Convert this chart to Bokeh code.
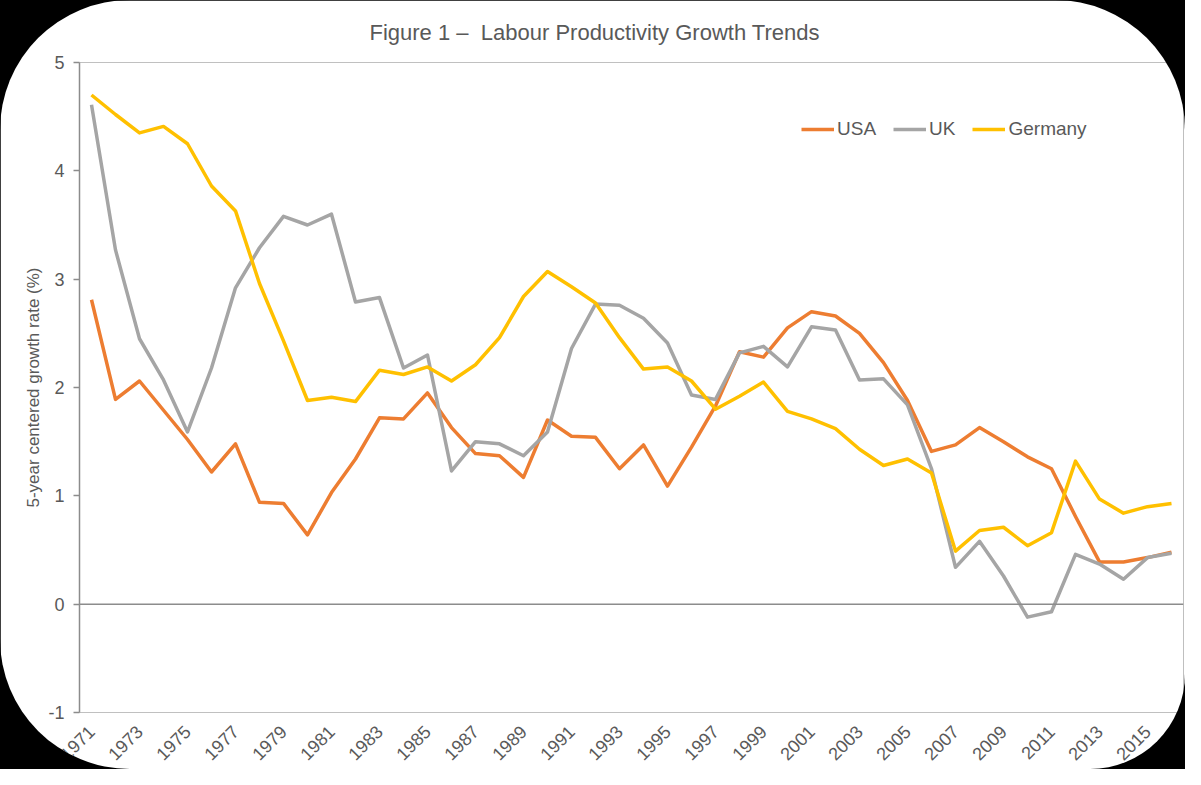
import math
from bokeh.plotting import figure
from bokeh.models import Span, FixedTicker, Legend, LegendItem, Range1d
from bokeh.layouts import column
from bokeh.embed import file_html
from bokeh.resources import INLINE

years = list(range(1971, 2017))
usa = [2.81, 1.89, 2.06, 1.79, 1.52, 1.22, 1.48, 0.94, 0.93, 0.64,
       1.03, 1.34, 1.72, 1.71, 1.95, 1.63, 1.39, 1.37, 1.17, 1.70,
       1.55, 1.54, 1.25, 1.47, 1.09, 1.45, 1.83, 2.33, 2.28, 2.55,
       2.70, 2.66, 2.50, 2.23, 1.88, 1.41, 1.47, 1.63, 1.50, 1.36,
       1.25, 0.81, 0.39, 0.39, 0.43, 0.48]
uk = [4.61, 3.27, 2.45, 2.07, 1.59, 2.18, 2.92, 3.29, 3.58, 3.50,
      3.60, 2.79, 2.83, 2.18, 2.30, 1.23, 1.50, 1.48, 1.37, 1.59,
      2.36, 2.77, 2.76, 2.64, 2.41, 1.93, 1.89, 2.32, 2.38, 2.19,
      2.56, 2.53, 2.07, 2.08, 1.84, 1.25, 0.34, 0.58, 0.26, -0.12,
      -0.07, 0.46, 0.37, 0.23, 0.43, 0.47]
germany = [4.70, 4.52, 4.35, 4.41, 4.25, 3.86, 3.63, 2.96, 2.43, 1.88,
           1.91, 1.87, 2.16, 2.12, 2.19, 2.06, 2.21, 2.46, 2.84, 3.07,
           2.93, 2.78, 2.46, 2.17, 2.19, 2.06, 1.80, 1.92, 2.05, 1.78,
           1.71, 1.62, 1.43, 1.28, 1.34, 1.21, 0.49, 0.68, 0.71, 0.54,
           0.66, 1.32, 0.97, 0.84, 0.90, 0.93]
tick_years = list(range(1971, 2016, 2))
y_ticks = [-1, 0, 1, 2, 3, 4, 5]
y_tick_labels = {-1: "-1", 0: "0", 1: "1", 2: "2", 3: "3", 4: "4", 5: "5"}
series_names = ["USA", "UK", "Germany"]
colors = ["#ED7D31", "#A5A5A5", "#FFC000"]

FONT = "Liberation Sans"
TXT = "#595959"
AX = "#8C8C8C"

p = figure(width=1185, height=769, output_backend="svg", toolbar_location=None,
           x_range=Range1d(1970.5, 2016.5), y_range=Range1d(-1, 5),
           min_border_left=79, min_border_right=2, min_border_top=60,
           min_border_bottom=46, border_fill_color="white",
           background_fill_color="white")
p.outline_line_color = None
p.grid.visible = False

p.title.text = "Figure 1 \u2013\u00a0 Labour Productivity Growth Trends"
p.title.align = "left"
p.title.text_font = FONT
p.title.text_font_size = "22px"
p.title.text_font_style = "normal"
p.title.text_color = TXT
p.title.offset = 290
p.title.standoff = 35

renderers = []
for name, vals, c in zip(series_names, [usa, uk, germany], colors):
    r = p.line(years, vals, line_color=c, line_width=3.5, line_join="round")
    renderers.append((name, r))

zero = Span(location=0, dimension="width", line_color=AX, line_width=1.5)
p.add_layout(zero)

# x axis
xa = p.xaxis[0]
xa.ticker = FixedTicker(ticks=tick_years)
xa.axis_line_color = None
xa.major_tick_line_color = None
xa.minor_tick_line_color = None
xa.major_label_orientation = math.pi / 4
xa.major_label_text_font = FONT
xa.major_label_text_font_size = "18px"
xa.major_label_text_color = TXT
xa.major_label_standoff = 10

# y axis
ya = p.yaxis[0]
ya.ticker = FixedTicker(ticks=y_ticks)
ya.major_label_overrides = y_tick_labels
ya.axis_line_color = AX
ya.axis_line_width = 1.5
ya.major_tick_line_color = AX
ya.major_tick_line_width = 1.5
ya.major_tick_out = 6
ya.major_tick_in = 0
ya.minor_tick_line_color = None
ya.major_label_text_font = FONT
ya.major_label_text_font_size = "18px"
ya.major_label_text_color = TXT
ya.major_label_standoff = 9
ya.axis_label = "5-year centered growth rate (%)"
ya.axis_label_text_font = FONT
ya.axis_label_text_font_size = "17px"
ya.axis_label_text_font_style = "normal"
ya.axis_label_text_color = TXT
ya.axis_label_standoff = 2

legend = Legend(items=[LegendItem(label=n, renderers=[r]) for n, r in renderers],
                orientation="horizontal", location=(722, 572),
                glyph_width=33, glyph_height=20, label_standoff=3, spacing=17,
                label_text_font=FONT, label_text_font_size="19px",
                label_text_color=TXT, border_line_color=None,
                background_fill_alpha=0)
p.add_layout(legend, "center")

p.styles = {"border-radius": "130px 130px 95px 130px", "overflow": "hidden"}
layout = column(p, styles={"background-color": "black"})

open("out.html", "w").write(file_html(layout, INLINE))
